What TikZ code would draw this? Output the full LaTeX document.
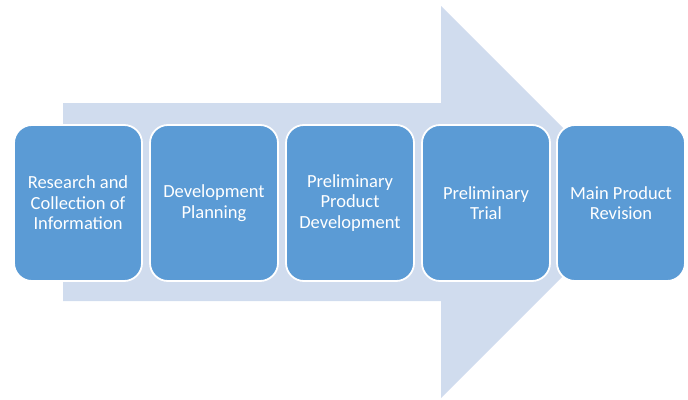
\documentclass[tikz,border=0pt]{standalone}
\usepackage{fontspec}
\setmainfont{Carlito}
\definecolor{boxblue}{HTML}{5B9BD5}
\definecolor{arrowblue}{HTML}{D0DCEE}
\begin{document}
\begin{tikzpicture}[x=1pt,y=-1pt,
  stepbox/.style={draw=white,line width=1.8pt,fill=boxblue,rounded corners=18pt,
    minimum width=128pt,minimum height=156pt,inner sep=0pt,
    text=white,align=center,font=\fontsize{18.5}{20.5}\selectfont}]
\useasboundingbox (0,0) rectangle (688,399);
\fill[arrowblue] (63,103) -- (441,103) -- (441,6) -- (637,202) -- (441,398) -- (441,301) -- (63,301) -- cycle;
\node[stepbox] (s1) at (78,203) {Research and\\Collection of\\Information};
\node[stepbox] (s2) at (214,203) {Development\\Planning};
\node[stepbox] (s3) at (350,203) {Preliminary\\Product\\Development};
\node[stepbox] (s4) at (486,203) {Preliminary\\Trial};
\node[stepbox] (s5) at (621,203) {Main Product\\Revision};
\end{tikzpicture}
\end{document}
